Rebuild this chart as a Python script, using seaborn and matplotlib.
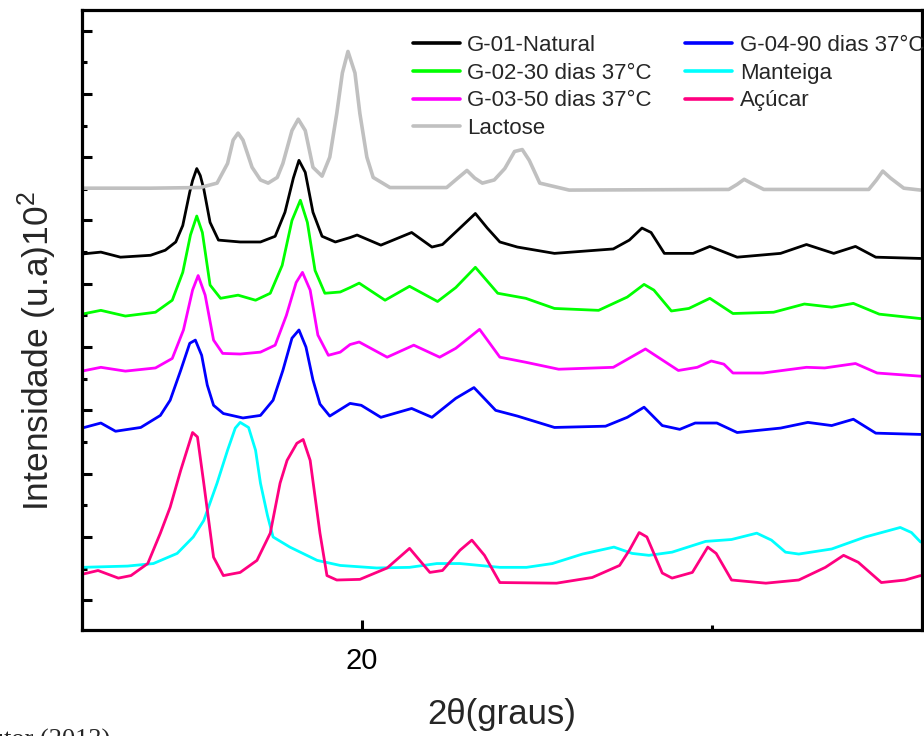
import numpy as np
import matplotlib
matplotlib.use('Agg')
import matplotlib.pyplot as plt
from matplotlib.ticker import MultipleLocator, AutoMinorLocator
import seaborn as sns

# 2theta (graus) and intensity (u.a. x10^2)
lac_x = [16.00, 16.98, 17.69, 17.93, 18.08, 18.16, 18.23, 18.30, 18.43, 18.55, 18.66, 18.79, 18.87,
         19.00, 19.09, 19.19, 19.30, 19.43, 19.54, 19.64, 19.72, 19.80, 19.90, 19.97, 20.07, 20.16,
         20.40, 21.21, 21.37, 21.50, 21.61, 21.72, 21.89, 22.04, 22.18, 22.29, 22.39, 22.54, 22.96,
         25.24, 25.36, 25.46, 25.56, 25.74, 27.24, 27.35, 27.44, 27.55, 27.74, 27.98]
lac_y = [6.51, 6.51, 6.52, 6.59, 6.90, 7.27, 7.38, 7.27, 6.84, 6.64, 6.59, 6.68, 6.90,
         7.42, 7.60, 7.42, 6.84, 6.70, 7.00, 7.69, 8.33, 8.67, 8.33, 7.69, 7.00, 6.68,
         6.52, 6.52, 6.67, 6.79, 6.67, 6.59, 6.64, 6.82, 7.09, 7.12, 6.95, 6.59, 6.48,
         6.49, 6.57, 6.65, 6.59, 6.49, 6.49, 6.64, 6.78, 6.67, 6.51, 6.48]

g01_x = [16.00, 16.27, 16.55, 16.98, 17.19, 17.34, 17.44, 17.54, 17.58, 17.64, 17.69, 17.74, 17.83,
         17.95, 18.26, 18.55, 18.76, 18.90, 19.02, 19.10, 19.19, 19.30, 19.43, 19.62, 19.83, 19.93,
         20.27, 20.71, 21.00, 21.15, 21.40, 21.62, 21.79, 21.97, 22.22, 22.75, 23.59, 23.82, 24.00,
         24.13, 24.32, 24.73, 24.97, 25.36, 25.98, 26.35, 26.74, 27.05, 27.34, 27.98]
g01_y = [5.47, 5.50, 5.42, 5.45, 5.53, 5.66, 5.92, 6.45, 6.63, 6.82, 6.71, 6.50, 5.97,
         5.69, 5.66, 5.66, 5.75, 6.13, 6.67, 6.95, 6.76, 6.13, 5.75, 5.66, 5.73, 5.77,
         5.61, 5.81, 5.58, 5.62, 5.88, 6.11, 5.88, 5.66, 5.58, 5.48, 5.55, 5.69, 5.88,
         5.81, 5.48, 5.48, 5.59, 5.42, 5.48, 5.62, 5.48, 5.59, 5.42, 5.40]

g02_x = [16.00, 16.27, 16.62, 17.05, 17.29, 17.44, 17.55, 17.64, 17.72, 17.83, 17.98, 18.23, 18.48,
         18.69, 18.86, 19.00, 19.12, 19.22, 19.33, 19.47, 19.69, 19.83, 19.96, 20.33, 20.68, 21.08,
         21.34, 21.62, 21.94, 22.34, 22.75, 23.38, 23.79, 24.03, 24.17, 24.42, 24.67, 24.97, 25.30,
         25.88, 26.32, 26.71, 27.02, 27.39, 27.98]
g02_y = [4.52, 4.58, 4.49, 4.55, 4.74, 5.18, 5.77, 6.07, 5.81, 4.98, 4.77, 4.82, 4.74,
         4.85, 5.29, 6.00, 6.32, 5.97, 5.21, 4.85, 4.87, 4.94, 5.01, 4.74, 4.96, 4.72,
         4.94, 5.26, 4.85, 4.77, 4.61, 4.58, 4.79, 4.99, 4.90, 4.57, 4.61, 4.77, 4.53,
         4.55, 4.68, 4.63, 4.69, 4.52, 4.45]

g03_x = [16.00, 16.27, 16.62, 17.05, 17.29, 17.45, 17.58, 17.66, 17.76, 17.88, 18.01, 18.26, 18.55,
         18.76, 18.92, 19.06, 19.15, 19.26, 19.37, 19.52, 19.69, 19.83, 19.96, 20.36, 20.74, 21.11,
         21.34, 21.68, 21.97, 22.34, 22.81, 23.59, 24.05, 24.52, 24.79, 24.99, 25.17, 25.30, 25.73,
         26.35, 26.61, 27.05, 27.36, 27.98]
g03_y = [3.62, 3.68, 3.62, 3.67, 3.82, 4.27, 4.90, 5.13, 4.82, 4.11, 3.90, 3.89, 3.92,
         4.03, 4.50, 5.02, 5.18, 4.90, 4.19, 3.87, 3.92, 4.04, 4.08, 3.84, 4.03, 3.84,
         3.98, 4.28, 3.84, 3.76, 3.65, 3.68, 3.97, 3.63, 3.68, 3.78, 3.73, 3.59, 3.59,
         3.68, 3.67, 3.74, 3.59, 3.54]

g04_x = [16.00, 16.27, 16.48, 16.84, 17.12, 17.26, 17.41, 17.54, 17.62, 17.71, 17.79, 17.88, 18.02,
         18.30, 18.55, 18.73, 18.87, 19.00, 19.10, 19.20, 19.30, 19.40, 19.54, 19.83, 19.99, 20.27,
         20.71, 21.00, 21.34, 21.60, 21.91, 22.22, 22.75, 23.48, 23.79, 24.03, 24.29, 24.54, 24.76,
         25.07, 25.36, 25.98, 26.37, 26.71, 27.02, 27.34, 27.98]
g04_y = [2.72, 2.80, 2.67, 2.73, 2.92, 3.16, 3.63, 4.06, 4.11, 3.87, 3.40, 3.08, 2.95,
         2.88, 2.92, 3.16, 3.63, 4.14, 4.27, 4.00, 3.48, 3.10, 2.91, 3.11, 3.08, 2.89,
         3.03, 2.89, 3.19, 3.36, 3.00, 2.91, 2.73, 2.75, 2.89, 3.05, 2.76, 2.70, 2.80,
         2.80, 2.65, 2.72, 2.81, 2.76, 2.86, 2.64, 2.62]

mant_x = [16.00, 16.65, 17.02, 17.36, 17.59, 17.74, 17.93, 18.08, 18.19, 18.26, 18.38, 18.48, 18.55,
          18.65, 18.73, 18.97, 19.36, 19.69, 20.21, 20.68, 21.07, 21.40, 21.97, 22.35, 22.72, 23.15,
          23.60, 23.86, 24.10, 24.43, 24.91, 25.28, 25.64, 25.85, 26.05, 26.24, 26.71, 27.19, 27.69,
          27.85, 27.98]
mant_y = [0.52, 0.54, 0.58, 0.74, 1.00, 1.26, 1.85, 2.37, 2.72, 2.81, 2.73, 2.37, 1.85,
          1.34, 1.00, 0.84, 0.63, 0.55, 0.51, 0.52, 0.58, 0.58, 0.52, 0.52, 0.58, 0.73,
          0.84, 0.74, 0.71, 0.76, 0.93, 0.96, 1.06, 0.95, 0.76, 0.73, 0.81, 1.00, 1.15,
          1.07, 0.92]

acu_x = [16.00, 16.23, 16.52, 16.70, 16.94, 17.12, 17.26, 17.41, 17.58, 17.65, 17.74, 17.88, 18.02,
         18.26, 18.50, 18.69, 18.83, 18.93, 19.07, 19.16, 19.26, 19.40, 19.50, 19.64, 19.97, 20.36,
         20.68, 20.97, 21.15, 21.40, 21.57, 21.75, 21.97, 22.78, 23.29, 23.68, 23.82, 23.96, 24.07,
         24.29, 24.43, 24.72, 24.94, 25.06, 25.28, 25.77, 26.24, 26.62, 26.88, 27.09, 27.42, 27.76,
         27.98]
acu_y = [0.41, 0.47, 0.35, 0.39, 0.58, 1.06, 1.47, 2.05, 2.65, 2.58, 1.85, 0.68, 0.39,
         0.44, 0.63, 1.06, 1.85, 2.21, 2.48, 2.54, 2.21, 1.06, 0.39, 0.32, 0.33, 0.51,
         0.82, 0.44, 0.47, 0.79, 0.95, 0.71, 0.28, 0.27, 0.36, 0.55, 0.79, 1.07, 1.00,
         0.43, 0.35, 0.44, 0.84, 0.74, 0.32, 0.27, 0.32, 0.52, 0.71, 0.60, 0.28, 0.32,
         0.39]

series = [
    ('G-01-Natural', g01_x, g01_y, '#000000', 2.0),
    ('G-02-30 dias 37°C', g02_x, g02_y, '#00ff00', 2.0),
    ('G-03-50 dias 37°C', g03_x, g03_y, '#ff00ff', 2.0),
    ('Lactose', lac_x, lac_y, '#c0c0c0', 2.6),
    ('G-04-90 dias 37°C', g04_x, g04_y, '#0000ff', 2.0),
    ('Manteiga', mant_x, mant_y, '#00ffff', 2.0),
    ('Açúcar', acu_x, acu_y, '#ff0080', 2.0),
]

sns.set_style('white')
plt.rcParams['font.family'] = ['Liberation Sans', 'DejaVu Sans']
plt.rcParams['mathtext.fontset'] = 'custom'
plt.rcParams['mathtext.rm'] = 'Liberation Sans'
plt.rcParams['mathtext.it'] = 'Liberation Sans:italic'
plt.rcParams['lines.solid_joinstyle'] = 'round'

fig = plt.figure(figsize=(9.24, 7.36), dpi=100)
ax = fig.add_axes([0.0887, 0.144, 0.9091, 0.842])

for name, xs, ys, col, lw in series:
    sns.lineplot(x=xs, y=ys, color=col, linewidth=lw, label=name, ax=ax,
                 estimator=None, sort=False)

ax.set_xlim(16, 28)
ax.set_ylim(-0.47, 9.32)
ax.xaxis.set_major_locator(MultipleLocator(10))
ax.xaxis.set_minor_locator(AutoMinorLocator(2))
ax.yaxis.set_major_locator(MultipleLocator(1))
ax.yaxis.set_minor_locator(AutoMinorLocator(2))
ax.set_yticklabels([])
ax.tick_params(which='both', direction='in', left=True, bottom=True, right=False, top=False,
               width=2.2, colors='black')
ax.tick_params(which='major', length=7.5, labelsize=21, pad=12)
ax.tick_params(which='minor', length=3.5)
for sp in ax.spines.values():
    sp.set_linewidth(2.3)
    sp.set_color('black')

ax.set_xlabel('2θ(graus)', fontsize=25)
ax.xaxis.set_label_coords(0.5, -0.11)
ax.set_ylabel('Intensidade (u.a)10$^2$', fontsize=25.5)
ax.yaxis.set_label_coords(-0.027, 0.45)

leg = ax.legend(loc='upper left', bbox_to_anchor=(0.394, 0.96), ncol=2, frameon=False,
                fontsize=16, handlelength=2.1, handletextpad=0.35, labelspacing=0.3,
                columnspacing=1.5, borderpad=0, borderaxespad=0)
for line in leg.get_lines():
    line.set_linewidth(2.6)

fig.text(110 / 924, -11 / 736, 'Fonte: Autor (2013)', ha='right', va='baseline',
         fontsize=19, family=['Liberation Serif', 'DejaVu Serif'])

fig.savefig('out.png', dpi=100)
